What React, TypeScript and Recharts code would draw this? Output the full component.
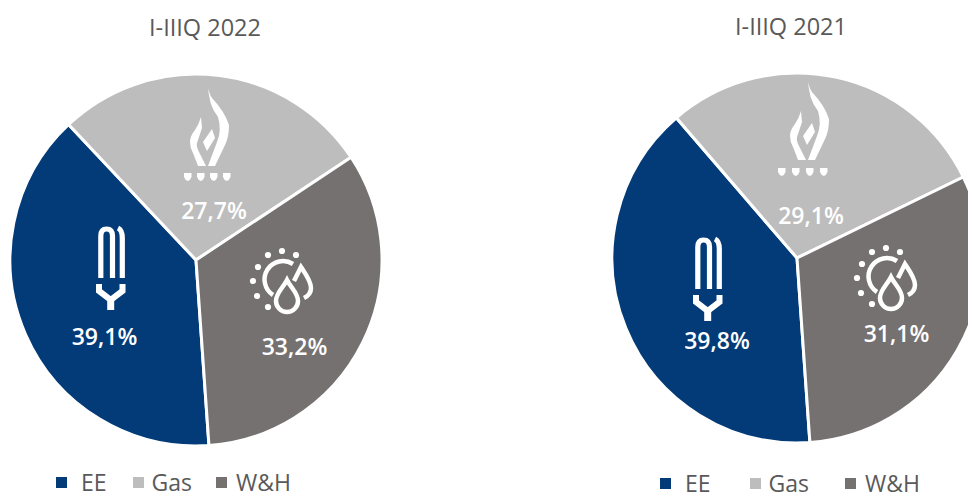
import { PieChart, Pie, Cell, Legend } from 'recharts'

const categories = ['EE', 'Gas', 'W&H']
const values2022 = [39.1, 27.7, 33.2]
const values2021 = [39.8, 29.1, 31.1]
const COLORS = ['#033b78', '#bdbdbd', '#767171']

const toRows = (values: number[]) => categories.map((name, i) => ({ name, value: values[i] }))
const pct = (v: number) => v.toFixed(1).replace('.', ',') + '%'

function FlameIcon({ x, y, shieldX, shieldY, spacing }: { x: number; y: number; shieldX: number; shieldY: number; spacing: number }) {
  const shields = [0, 1, 2, 3]
  return (
    <g fill="#fff">
      <g transform={`translate(${x} ${y})`}>
        <path d="M208 83 C208 90 210 95 212 98 Q225 112 229 125 Q229 137 225 145 L215 166 L208 166 L217 142 Q222 130 218 117 Q208 105 208 83Z" />
        <path d="M201 117 Q199 124 195 130 Q190 136 190 142 Q190 148 193 153 L198 166 L206 166 L198 150 Q196 146 197 143 L202 128Z" />
        <path d="M212 129 L215 138 L207 151 L203 142Z" />
      </g>
      {shields.map((n) => (
        <path key={n} d={`M${shieldX + n * spacing} ${shieldY} h7.5 v4 q-1 3 -3.7 4 q-2.8 -1 -3.8 -4Z`} />
      ))}
    </g>
  )
}

function BulbIcon({ x, y }: { x: number; y: number }) {
  return (
    <g transform={`translate(${x} ${y})`} fill="none" stroke="#fff" strokeWidth={5.2}>
      <path d="M100.8 278 V236 Q100.8 229 106.6 229 Q112.5 229 112.5 236 V278" />
      <path d="M118 228 Q122.3 230 122.3 238 V278" />
      <path d="M99 284 V291 L110.7 300 L122.5 291 V284" strokeWidth={6} />
      <path d="M110.7 300 V310" strokeWidth={7} />
    </g>
  )
}

function SunIcon({ x, y }: { x: number; y: number }) {
  const rays = [[258, 267], [253, 281], [257, 296], [268, 307], [268, 255], [282, 251], [296, 255]]
  return (
    <g transform={`translate(${x} ${y})`} fill="none" stroke="#fff" strokeWidth={4.5}>
      <path d="M273 295 A 18.4 18.4 0 0 1 293 264" />
      <path d="M287 280 C283 288 276 293 276 301 A 11 11 0 0 0 298 301 C298 293 291 288 287 280Z" />
      <path d="M294 281 L301 267 C305 273 311 281 311 288 C311 293 308 296 304 298" />
      {rays.map(([cx, cy]) => (
        <circle key={`${cx}-${cy}`} cx={cx} cy={cy} r={3.1} fill="#fff" stroke="none" />
      ))}
    </g>
  )
}

function LegendRow({ gaps, textGaps }: { gaps: number[]; textGaps: number[] }) {
  return (
    <div style={{ display: 'flex', alignItems: 'center', fontFamily: '"Open Sans"', fontSize: 23, lineHeight: '20px', color: '#595959' }}>
      {categories.map((name, i) => (
        <span key={name} style={{ display: 'flex', alignItems: 'center', marginRight: gaps[i] }}>
          <span style={{ width: 11, height: 11, background: COLORS[i], marginRight: textGaps[i] }} />
          {name}
        </span>
      ))}
    </div>
  )
}

function makeLabel(offsets: number[][]) {
  return (props: any) => {
    const [dx, dy] = offsets[props.index]
    return (
      <text
        x={props.cx + dx}
        y={props.cy + dy}
        fill="#fff"
        textAnchor="middle"
        dominantBaseline="central"
        fontFamily='"Open Sans"'
        fontWeight={600}
        fontSize={23}
      >
        {pct(props.value)}
      </text>
    )
  }
}

function YearPie({ title, values, left, width, cx, cy, radius, start, offsets, titleX, titleY, legendX, legendY, gaps, textGaps, children }: any) {
  return (
    <div style={{ position: 'absolute', left, top: 0, width, height: 493, overflow: 'hidden' }}>
      <PieChart width={width} height={493} margin={{ top: 0, right: 0, bottom: 0, left: 0 }}>
        <Pie
          data={toRows(values)}
          dataKey="value"
          nameKey="name"
          cx={cx}
          cy={cy}
          outerRadius={radius}
          startAngle={start}
          endAngle={start - 360}
          stroke="#fff"
          strokeWidth={3}
          labelLine={false}
          label={makeLabel(offsets)}
          isAnimationActive={false}
        >
          {categories.map((name, i) => (
            <Cell key={name} fill={COLORS[i]} />
          ))}
        </Pie>
        <Legend
          content={() => <LegendRow gaps={gaps} textGaps={textGaps} />}
          wrapperStyle={{ position: 'absolute', left: legendX, top: legendY, width: 'auto', bottom: 'auto' }}
        />
      </PieChart>
      <svg width={width} height={493} style={{ position: 'absolute', left: 0, top: 0, pointerEvents: 'none' }}>
        {children}
      </svg>
      <div
        style={{
          position: 'absolute',
          left: titleX,
          top: titleY,
          fontFamily: '"Open Sans"',
          fontSize: 23.5,
          lineHeight: '24px',
          color: '#595959',
          whiteSpace: 'nowrap',
        }}
      >
        {title}
      </div>
    </div>
  )
}

export default function App() {
  return (
    <div style={{ position: 'absolute', left: 0, top: 0, width: 968, height: 493, overflow: 'hidden', background: '#fff' }}>
      <YearPie
        title="I-IIIQ 2022"
        values={values2022}
        left={0}
        width={484}
        cx={196}
        cy={260}
        radius={186}
        start={274}
        offsets={[[-91.5, 76], [18, -50], [98.5, 86]]}
        titleX={149}
        titleY={15}
        legendX={56}
        legendY={472}
        gaps={[26, 24, 0]}
        textGaps={[14, 8, 9]}
      >
        <FlameIcon x={0} y={0} shieldX={184} shieldY={173} spacing={13} />
        <BulbIcon x={0} y={0} />
        <SunIcon x={0} y={0} />
      </YearPie>
      <YearPie
        title="I-IIIQ 2021"
        values={values2021}
        left={484}
        width={484}
        cx={313}
        cy={258}
        radius={185}
        start={274}
        offsets={[[-80, 82], [14, -43], [99.5, 75]]}
        titleX={251}
        titleY={14}
        legendX={176}
        legendY={473}
        gaps={[39, 36, 0]}
        textGaps={[14, 8, 9]}
      >
        <FlameIcon x={116} y={-6} shieldX={294} shieldY={168} spacing={14} />
        <BulbIcon x={113} y={11} />
        <SunIcon x={120} y={-3} />
      </YearPie>
    </div>
  )
}
